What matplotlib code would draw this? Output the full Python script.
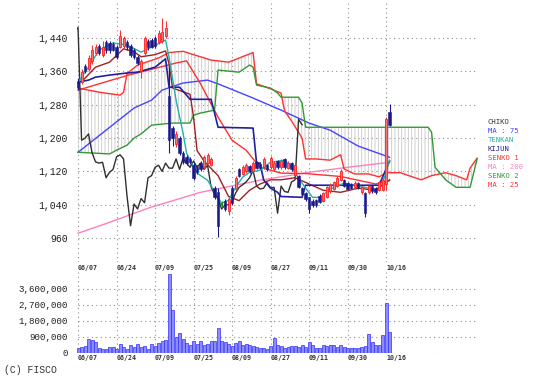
import numpy as np
import matplotlib.pyplot as plt

# ---- data (index 0 = 06/07, one step per trading day) ----
date_labels = ['06/07', '06/24', '07/09', '07/25', '08/09', '08/27', '09/11', '09/30', '10/16']
date_idx = [0, 11, 22, 33, 44, 55, 66, 77, 88]

opens = [1335, 1334, 1372, 1365, 1385, 1405, 1420, 1400, 1430, 1428,
         1425, 1418, 1418, 1420, 1430, 1420, 1410, 1395, 1360, 1405,
         1432, 1435, 1440, 1430, 1432, 1445, 1300, 1225, 1185, 1200,
         1165, 1155, 1150, 1135, 1130, 1140, 1130, 1140, 1135, 1080,
         1070, 1042, 1050, 1025, 1080, 1078, 1125, 1115, 1120, 1133,
         1122, 1142, 1138, 1130, 1135, 1130, 1125, 1145, 1130, 1150,
         1128, 1140, 1112, 1110, 1080, 1068, 1058, 1050, 1052, 1062,
         1050, 1060, 1072, 1078, 1085, 1100, 1100, 1092, 1090, 1082,
         1092, 1070, 1068, 1070, 1085, 1080, 1075, 1075, 1090, 1262]
closes = [1322, 1358, 1360, 1392, 1410, 1418, 1405, 1418, 1410, 1410,
          1412, 1395, 1445, 1440, 1418, 1400, 1395, 1380, 1385, 1440,
          1418, 1418, 1420, 1452, 1455, 1465, 1195, 1200, 1210, 1165,
          1143, 1140, 1142, 1105, 1118, 1125, 1155, 1160, 1150, 1060,
          990, 1042, 1030, 1055, 1045, 1105, 1110, 1130, 1135, 1120,
          1140, 1128, 1128, 1150, 1125, 1152, 1140, 1130, 1145, 1130,
          1140, 1125, 1135, 1083, 1065, 1055, 1030, 1040, 1040, 1048,
          1068, 1082, 1088, 1095, 1105, 1122, 1085, 1078, 1080, 1093,
          1080, 1082, 1020, 1085, 1072, 1070, 1095, 1100, 1245, 1232]
highs = [1345, 1365, 1378, 1400, 1422, 1425, 1425, 1432, 1435, 1432,
         1430, 1422, 1460, 1445, 1435, 1425, 1415, 1400, 1390, 1445,
         1438, 1440, 1445, 1458, 1488, 1480, 1370, 1230, 1218, 1205,
         1170, 1160, 1155, 1140, 1135, 1145, 1160, 1165, 1155, 1085,
         1080, 1050, 1055, 1060, 1085, 1110, 1128, 1135, 1140, 1136,
         1145, 1146, 1142, 1155, 1138, 1156, 1145, 1148, 1150, 1153,
         1145, 1143, 1138, 1112, 1083, 1070, 1060, 1053, 1055, 1065,
         1070, 1085, 1092, 1098, 1108, 1126, 1103, 1095, 1092, 1096,
         1095, 1085, 1070, 1088, 1088, 1083, 1098, 1104, 1250, 1282]
lows = [1315, 1330, 1355, 1362, 1378, 1400, 1400, 1395, 1405, 1405,
        1408, 1390, 1415, 1415, 1412, 1395, 1390, 1375, 1345, 1400,
        1412, 1415, 1415, 1425, 1428, 1440, 1165, 1180, 1178, 1160,
        1138, 1135, 1138, 1100, 1115, 1120, 1127, 1137, 1132, 1055,
        962, 1036, 1026, 1015, 1040, 1075, 1106, 1112, 1117, 1117,
        1118, 1125, 1125, 1127, 1122, 1127, 1122, 1127, 1127, 1127,
        1125, 1122, 1108, 1080, 1062, 1050, 1020, 1036, 1036, 1045,
        1047, 1057, 1068, 1075, 1082, 1097, 1082, 1075, 1077, 1079,
        1077, 1066, 1012, 1066, 1069, 1067, 1072, 1072, 1075, 1228]
volume = [300, 350, 380, 780, 750, 600, 300, 250, 250, 350,
          350, 250, 500, 350, 250, 450, 350, 500, 350, 400,
          200, 500, 400, 550, 650, 750, 4450, 2400, 900, 1150,
          800, 550, 450, 650, 500, 650, 450, 500, 650, 700,
          1400, 650, 600, 500, 400, 550, 650, 450, 500, 450,
          400, 350, 300, 300, 250, 400, 850, 450, 400, 300,
          350, 400, 400, 350, 450, 350, 600, 450, 300, 300,
          450, 400, 450, 450, 350, 450, 350, 300, 300, 300,
          300, 350, 400, 1050, 600, 450, 450, 1000, 2800, 1200]  # thousands

# indicator lines, read as (index, price) points
tenkan_x = [0, 3, 6, 10, 14, 18, 21, 25, 26, 28, 30, 31, 34, 37, 40, 41, 43, 45, 47, 49, 52, 55,
            59, 61, 63, 65, 67, 69, 71, 73, 76, 79, 83, 85, 87, 89]
tenkan_y = [1334, 1370, 1411, 1428, 1423, 1406, 1418, 1435, 1394, 1291, 1212, 1164, 1116, 1099,
            1058, 1044, 1051, 1082, 1106, 1118, 1123, 1142, 1147, 1130, 1104, 1080, 1058, 1058,
            1070, 1082, 1092, 1087, 1080, 1075, 1092, 1147]
kijun_x = [0, 3, 5, 9, 14, 17, 22, 25, 26, 29, 32, 38, 39, 40, 50, 51, 52, 53, 55, 57, 58, 64, 65, 86, 89]
kijun_y = [1334, 1339, 1346, 1351, 1356, 1358, 1370, 1390, 1322, 1322, 1293, 1293, 1260, 1226, 1224,
           1140, 1140, 1100, 1080, 1070, 1060, 1058, 1087, 1087, 1145]
maroon_x = [1, 5, 9, 13, 16, 18, 22, 25, 26, 27, 32, 33, 34, 36, 40, 43, 46, 49, 52, 55, 58, 62,
            66, 70, 75, 80, 85, 89]
maroon_y = [1335, 1370, 1382, 1414, 1407, 1395, 1400, 1409, 1378, 1320, 1305, 1250, 1170, 1145,
            1110, 1060, 1050, 1075, 1090, 1100, 1100, 1105, 1090, 1075, 1070, 1080, 1075, 1100]
senko1_x = [0, 6, 12, 13, 14, 17, 23, 26, 30, 33, 38, 43, 50, 51, 55, 58, 59, 61, 64, 65, 68, 72,
            75, 76, 79, 83, 86, 88, 92, 98, 101, 105, 108, 111, 112, 114]
senko1_y = [1320, 1310, 1303, 1310, 1355, 1375, 1392, 1405, 1408, 1400, 1387, 1382, 1405, 1330,
            1318, 1308, 1265, 1241, 1200, 1150, 1150, 1147, 1160, 1126, 1114, 1114, 1107, 1117,
            1117, 1100, 1110, 1117, 1110, 1100, 1128, 1152]
senko2_x = [0, 9, 11, 14, 16, 18, 21, 27, 32, 33, 35, 39, 40, 46, 49, 50, 51, 55, 57, 58, 63, 64,
            65, 100, 101, 102, 105, 108, 112, 114]
senko2_y = [1166, 1162, 1171, 1183, 1200, 1210, 1231, 1236, 1236, 1255, 1260, 1267, 1363, 1358,
            1375, 1370, 1327, 1320, 1308, 1298, 1298, 1284, 1226, 1226, 1214, 1130, 1100, 1082,
            1082, 1150]
ma25_x = [0, 14, 28, 31, 35, 40, 44, 48, 52, 58, 65, 75, 85, 89]
ma25_y = [1315, 1350, 1380, 1385, 1330, 1250, 1195, 1171, 1130, 1116, 1115, 1108, 1090, 1098]
ma75_x = [0, 8, 16, 21, 24, 30, 37, 40, 50, 58, 66, 72, 80, 89]
ma75_y = [1166, 1219, 1272, 1291, 1315, 1332, 1339, 1330, 1296, 1267, 1236, 1219, 1181, 1154]
ma200_x = [0, 9, 20, 35, 52, 66, 77, 89]
ma200_y = [972, 998, 1032, 1070, 1099, 1118, 1130, 1142]

shift = 25  # chiko lag / senko lead

# ---- figure ----
fig = plt.figure(figsize=(5.36, 3.77), dpi=100)
fw, fh = 536, 377

def px_axes(l, t, r, b):
    return fig.add_axes([l / fw, 1 - b / fh, (r - l) / fw, (b - t) / fh])

xlim = (-0.3, 115.4)
ax = px_axes(77, 0, 482, 262)
axv = px_axes(77, 272, 482, 353)

grid_kw = dict(color='#909090', linestyle=(0, (1, 3)), linewidth=0.8)
mono = 'Liberation Mono'
tiny = 'DejaVu Sans Mono'

for a in (ax, axv):
    a.set_xlim(*xlim)
    for s in a.spines.values():
        s.set_visible(False)
    a.set_xticks([])
    a.tick_params(left=False, pad=3)
    for d in date_idx:
        a.axvline(d, ymin=0, ymax=1, zorder=0, **grid_kw)

# price panel
ax.set_ylim(903, 1531)
yt = [960, 1040, 1120, 1200, 1280, 1360, 1440]
ax.set_yticks(yt)
ax.set_yticklabels([f'{v:,}' for v in yt], family=mono, fontsize=7, color='#202020')
for v in yt:
    ax.plot([0, 114], [v, v], zorder=0, **grid_kw)

# cloud hatch
hx = np.r_[senko1_x, senko2_x[::-1]]
hy = np.r_[senko1_y, senko2_y[::-1]]
plt.rcParams['hatch.linewidth'] = 0.6
ax.fill(hx, hy, facecolor='none', edgecolor='#c8c8c8', hatch='|' * 5, linewidth=0, zorder=1)

# lines
ax.plot(ma200_x, ma200_y, color='#ff80c0', lw=1, zorder=2)
ax.plot(ma75_x, ma75_y, color='#4444ff', lw=1, zorder=2)
ax.plot(ma25_x, ma25_y, color='#ff3030', lw=1, zorder=2)
ax.plot(senko1_x, senko1_y, color='#ff3030', lw=1, zorder=2)
ax.plot(senko2_x, senko2_y, color='#339933', lw=1, zorder=2)
chiko_x = [i - shift for i in range(len(closes))]
ax.plot(chiko_x, closes, color='#303030', lw=1, zorder=2)
ax.plot(maroon_x, maroon_y, color='#a02020', lw=1, zorder=3)
ax.plot(kijun_x, kijun_y, color='#2020a0', lw=1.2, zorder=3)
ax.plot(tenkan_x, tenkan_y, color='#20b2aa', lw=1, zorder=3)

# candles
idx = np.arange(len(closes))
o = np.array(opens); c = np.array(closes)
up = c > o
dn = c < o
eq = c == o
cols = np.where(up, '#ff3030', np.where(dn, '#1a1a8c', '#209020'))
ax.vlines(idx, lows, highs, colors=cols, lw=0.8, zorder=4)
ax.bar(idx[up], (c - o)[up], bottom=o[up], width=0.6, color='#ff7070', edgecolor='#ff2020', lw=0.6, zorder=5)
ax.bar(idx[dn], (o - c)[dn], bottom=c[dn], width=0.7, color='#1a1a8c', edgecolor='#1a1a8c', lw=0.4, zorder=5)
ax.bar(idx[eq], 5, bottom=o[eq] - 2.5, width=0.7, color='#209020', zorder=5)

# volume panel
vmax = 4556
axv.set_ylim(0, vmax)
vt = [0, 900, 1800, 2700, 3600]
axv.set_yticks(vt)
axv.set_yticklabels([f'{v * 1000:,}' for v in vt], family=mono, fontsize=6.6, color='#202020')
for v in vt:
    axv.plot([0, 114], [v, v], zorder=0, **grid_kw)
axv.bar(idx, volume, width=0.85, color='#8c8cff', edgecolor='#3030ff', lw=0.5, zorder=2)

# date labels
for d, lab in zip(date_idx, date_labels):
    for a, yy in ((ax, -0.012), (axv, -0.03)):
        a.text(d, yy, lab, transform=a.get_xaxis_transform(), ha='left', va='top',
               family=tiny, fontsize=4.8, fontweight='bold', color='#333333')

# legend-like labels on the right
lx = 488 / fw
def rlab(y, s, col):
    fig.text(lx, 1 - y / fh, s, color=col, family=tiny, fontsize=5.2, va='center')
rlab(122, 'CHIKO', '#303030')
rlab(131, 'MA : 75', '#4444ff')
rlab(140, 'TENKAN', '#20b2aa')
rlab(149, 'KIJUN', '#2020a0')
rlab(158, 'SENKO 1', '#ff3030')
rlab(167, 'MA : 200', '#ff80c0')
rlab(176, 'SENKO 2', '#339933')
rlab(185, 'MA : 25', '#ff3030')

fig.text(4 / fw, 1 - 370 / fh, '(C) FISCO', family=mono, fontsize=7, va='center', color='#333333')

fig.savefig('out.png', dpi=100)
